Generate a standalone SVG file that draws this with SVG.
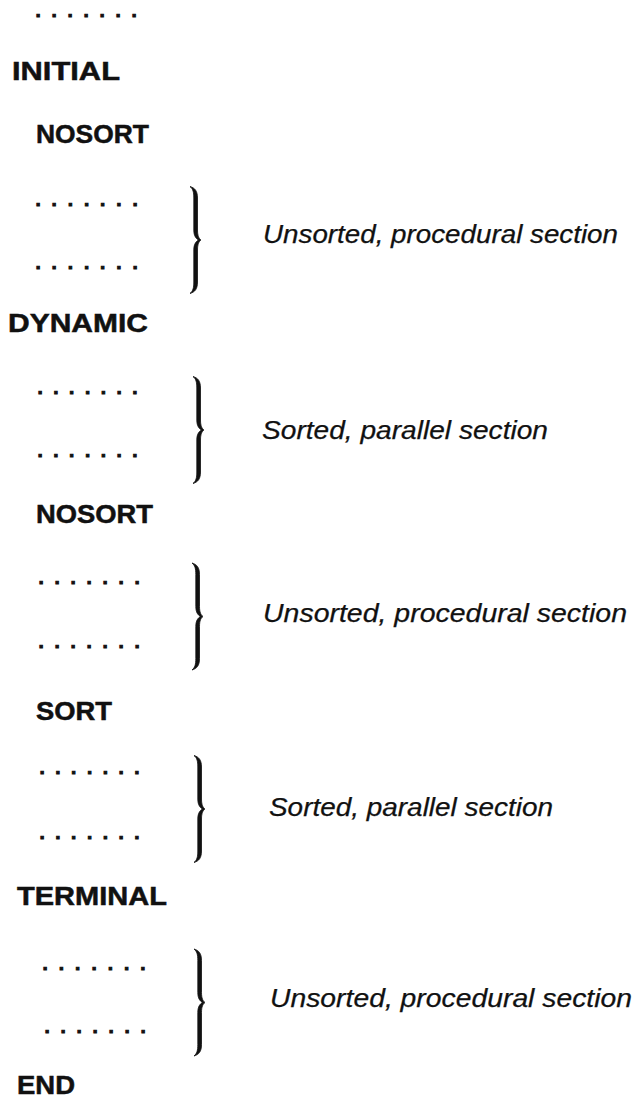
<svg xmlns="http://www.w3.org/2000/svg" xmlns:xlink="http://www.w3.org/1999/xlink" width="634" height="1100" viewBox="0 0 634 1100">
  <style>
    .kw { font-family: "Liberation Sans", Arial, sans-serif; font-weight: bold; font-size: 26px; fill: #111; stroke: #111; stroke-width: 0.5; }
    .dots { font-family: "Liberation Sans", Arial, sans-serif; font-weight: bold; font-size: 19px; fill: #111; stroke: #111; stroke-width: 1; }
    .note { font-family: "Liberation Sans", Arial, sans-serif; font-style: italic; font-size: 26px; fill: #111; stroke: #111; stroke-width: 0.25; }
    .brace { fill: #111; stroke: #111; stroke-width: 0.8; stroke-linejoin: round; }
  </style>
  <defs>
    <!-- right curly brace, cusp at the origin, 107 px tall -->
    <path id="brace" class="brace" d="M -11,-53.5 C -6,-52 -3.5,-49 -3.5,-42 L -3.5,-10 C -3.5,-4 -2,-1.5 0,0 C -2,1.5 -3.5,4 -3.5,10 L -3.5,42 C -3.5,49 -6,52 -11,53.5 C -8,51 -7.2,48 -7.2,42 L -7.2,10 C -7.2,4 -5,1.5 -2.5,0 C -5,-1.5 -7.2,-4 -7.2,-10 L -7.2,-42 C -7.2,-48 -8,-51 -11,-53.5 Z"/>
  </defs>
  <rect width="634" height="1100" fill="#fff"/>

  <g id="lead">
    <text class="dots" x="35.4" y="17.4" letter-spacing="10.72">.......</text>
  </g>

  <g id="initial">
    <text class="kw" x="12" y="80" textLength="108" lengthAdjust="spacingAndGlyphs">INITIAL</text>
  </g>

  <g id="nosort-1">
    <text class="kw" x="36" y="143" textLength="113" lengthAdjust="spacingAndGlyphs">NOSORT</text>
    <text class="dots" x="35.4" y="206.4" letter-spacing="10.89">.......</text>
    <text class="dots" x="35.4" y="269.4" letter-spacing="10.89">.......</text>
    <text class="note" x="263" y="243" textLength="355" lengthAdjust="spacingAndGlyphs">Unsorted, procedural section</text>
  </g>

  <g id="dynamic">
    <text class="kw" x="8" y="332" textLength="140" lengthAdjust="spacingAndGlyphs">DYNAMIC</text>
    <text class="dots" x="37.4" y="394.4" letter-spacing="10.55">.......</text>
    <text class="dots" x="37.4" y="457.4" letter-spacing="10.55">.......</text>
    <text class="note" x="262" y="439" textLength="286" lengthAdjust="spacingAndGlyphs">Sorted, parallel section</text>
  </g>

  <g id="nosort-2">
    <text class="kw" x="36" y="523" textLength="117" lengthAdjust="spacingAndGlyphs">NOSORT</text>
    <text class="dots" x="38.4" y="584.4" letter-spacing="10.72">.......</text>
    <text class="dots" x="38.4" y="648.4" letter-spacing="10.72">.......</text>
    <text class="note" x="263" y="622" textLength="364" lengthAdjust="spacingAndGlyphs">Unsorted, procedural section</text>
  </g>

  <g id="sort">
    <text class="kw" x="36" y="720" textLength="76" lengthAdjust="spacingAndGlyphs">SORT</text>
    <text class="dots" x="39.4" y="774.4" letter-spacing="10.55">.......</text>
    <text class="dots" x="39.4" y="839.4" letter-spacing="10.55">.......</text>
    <text class="note" x="269" y="816" textLength="284" lengthAdjust="spacingAndGlyphs">Sorted, parallel section</text>
  </g>

  <g id="terminal">
    <text class="kw" x="17" y="905" textLength="150" lengthAdjust="spacingAndGlyphs">TERMINAL</text>
    <text class="dots" x="42.4" y="970.4" letter-spacing="11.05">.......</text>
    <text class="dots" x="44.4" y="1033.4" letter-spacing="10.72">.......</text>
    <text class="note" x="270" y="1007" textLength="362" lengthAdjust="spacingAndGlyphs">Unsorted, procedural section</text>
  </g>

  <g id="end">
    <text class="kw" x="17" y="1094" textLength="58" lengthAdjust="spacingAndGlyphs">END</text>
  </g>

  <g id="connectors">
    <use xlink:href="#brace" x="201" y="240"/>
    <use xlink:href="#brace" x="204" y="430"/>
    <use xlink:href="#brace" x="203" y="616.5"/>
    <use xlink:href="#brace" x="205" y="809"/>
    <use xlink:href="#brace" x="205" y="1002.5"/>
  </g>
</svg>
